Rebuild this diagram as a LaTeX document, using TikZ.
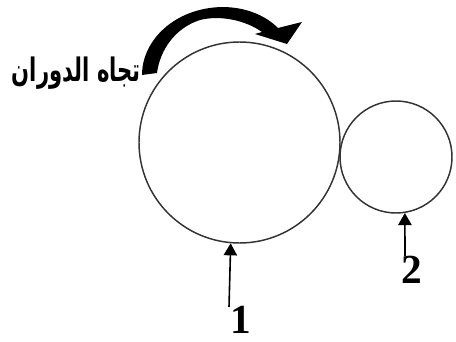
\documentclass[tikz,border=0pt]{standalone}
\usepackage{fontspec}
\usepackage{tikz}
\usetikzlibrary{arrows.meta,positioning}
\TeXXeTstate=1
\newfontfamily\arabicfont[Script=Arabic]{DejaVu Sans}
\newfontfamily\numfont{Liberation Serif}

\begin{document}
\begin{tikzpicture}[x=0.75pt, y=-0.75pt,
    wheel/.style={draw=black!80, circle, line width=1.1pt, inner sep=0pt},
    numlabel/.style={font=\numfont\bfseries\fontsize{31}{33}\selectfont, inner sep=0pt},
    pointer/.style={-{Triangle[width=10pt,length=9pt]}, line width=1.2pt}]
    \useasboundingbox (0,0) rectangle (456,342);

    \node[wheel, minimum size=150.75pt] (big) at (239.5,142.5) {};
    \node[wheel, minimum size=84pt] (small) at (396,157) {};

    \node[numlabel] (lab1) at (241,320) {1};
    \node[numlabel] (lab2) at (412,270) {2};
    \coordinate (t1) at (229,307);
    \coordinate (t2) at (405,256);

    \draw[pointer] (t1) -- (big.265);
    \draw[pointer] (t2) -- (small.279);

    % direction of rotation
    \node[anchor=base east, inner sep=0pt, font=\arabicfont\bfseries\fontsize{18}{20}\selectfont] (dir) at (141,82) {\scalebox{0.88}[1.35]{\beginR تجاه الدوران\endR}};
    \fill (142,75) .. controls (142,40) and (175,8) .. (222,7)
        .. controls (245,7) and (265,15) .. (278,28)
        -- (302,22) -- (287,44) -- (255,34) -- (262,32)
        .. controls (245,20) and (220,15) .. (200,20)
        .. controls (175,28) and (160,50) .. (157,73) -- cycle;
\end{tikzpicture}
\end{document}
